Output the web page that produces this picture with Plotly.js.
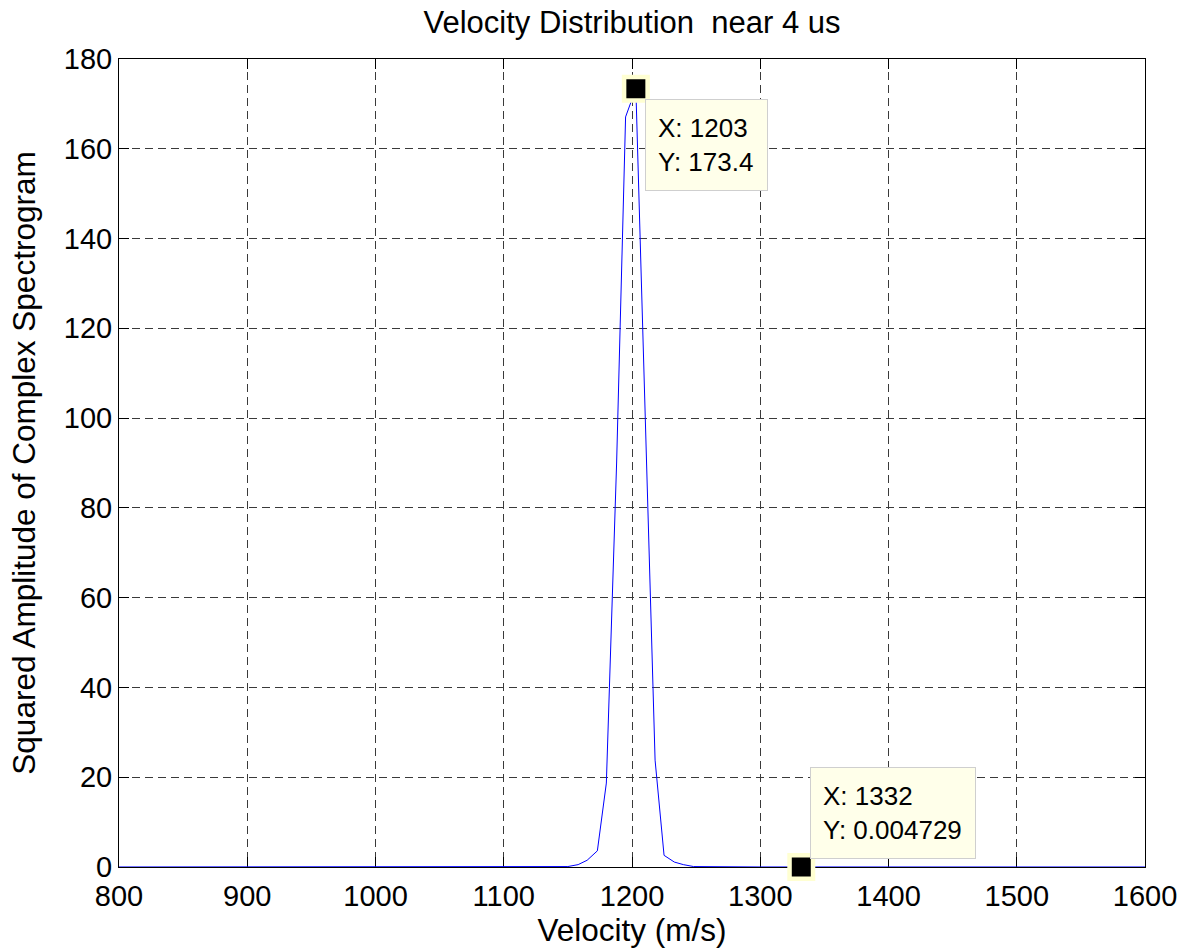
<!DOCTYPE html>
<html>
<head>
<meta charset="utf-8">
<script src="https://cdn.plot.ly/plotly-3.0.1.min.js"></script>
<style>html,body{margin:0;padding:0;background:#fff;}#chart{width:1181px;height:949px;}</style>
</head>
<body>
<div id="chart"></div>
<script>
// Velocity samples (m/s) and squared amplitude
var velocity = [800, 900, 1000, 1100, 1150, 1158, 1165, 1173, 1180, 1188, 1195, 1203, 1210, 1218, 1225, 1233, 1240, 1248, 1300, 1332, 1400, 1500, 1600];
var amplitude = [0.005, 0.005, 0.005, 0.01, 0.1, 0.53, 1.5, 3.6, 18.7, 90, 167.1, 173.4, 104, 23.8, 2.6, 1.1, 0.53, 0.1, 0.01, 0.004729, 0.005, 0.005, 0.005];

// Data tips
var tipX = [1203, 1332];
var tipY = [173.4, 0.004729];
var tipLabelY = ['173.4', '0.004729'];

var xTicks = [800, 900, 1000, 1100, 1200, 1300, 1400, 1500, 1600];
var yTicks = [0, 20, 40, 60, 80, 100, 120, 140, 160, 180];

var FONT = 'Liberation Sans, Arial, Helvetica, sans-serif';

var traces = [
  {
    x: velocity, y: amplitude, type: 'scatter', mode: 'lines',
    line: {color: '#0000FF', width: 1}, hoverinfo: 'x+y'
  },
  {
    x: tipX, y: tipY, type: 'scatter', mode: 'markers', cliponaxis: false,
    marker: {symbol: 'square', size: 23.5, color: '#000000', line: {color: '#FFFFD2', width: 4.5}},
    hoverinfo: 'skip'
  }
];

var annotations = [
  {
    x: tipX[0], y: tipY[0], xref: 'x', yref: 'y', showarrow: false,
    xanchor: 'left', yanchor: 'top', xshift: 9, yshift: -10,
    align: 'left', valign: 'middle', width: 97, height: 66,
    text: 'X: ' + tipX[0] + '<br>Y: ' + tipLabelY[0],
    font: {family: FONT, size: 26, color: '#000'},
    bgcolor: '#FFFFEA', bordercolor: '#CFCFCF', borderwidth: 1, borderpad: 12
  },
  {
    x: tipX[1], y: tipY[1], xref: 'x', yref: 'y', showarrow: false,
    xanchor: 'left', yanchor: 'bottom', xshift: 9, yshift: 8,
    align: 'left', valign: 'middle', width: 140, height: 66,
    text: 'X: ' + tipX[1] + '<br>Y: ' + tipLabelY[1],
    font: {family: FONT, size: 26, color: '#000'},
    bgcolor: '#FFFFEA', bordercolor: '#CFCFCF', borderwidth: 1, borderpad: 12
  }
];

var layout = {
  width: 1181, height: 949,
  margin: {l: 119, r: 36, t: 59, b: 82},
  paper_bgcolor: '#ffffff', plot_bgcolor: '#ffffff',
  font: {family: FONT, color: '#000'},
  showlegend: false,
  title: {
    text: 'Velocity Distribution \u00a0near 4 us',
    font: {family: FONT, size: 31, color: '#000'},
    x: 0.5, xref: 'paper', xanchor: 'center',
    y: 1 - 22 / 949, yref: 'container', yanchor: 'middle'
  },
  xaxis: {
    range: [800, 1600], tickmode: 'array', tickvals: xTicks, ticktext: xTicks.map(String),
    ticks: 'inside', ticklen: 10, tickwidth: 1, tickcolor: '#000',
    showline: true, linecolor: '#000', linewidth: 1, mirror: 'ticks',
    showgrid: true, gridcolor: '#3a3a3a', gridwidth: 1, griddash: '8px,5px',
    zeroline: false, layer: 'below traces', ticklabelstandoff: 3,
    tickfont: {family: FONT, size: 29, color: '#000'},
    title: {text: 'Velocity (m/s)', font: {family: FONT, size: 31.5, color: '#000'}, standoff: 5}
  },
  yaxis: {
    range: [0, 180], tickmode: 'array', tickvals: yTicks, ticktext: yTicks.map(String),
    ticks: 'inside', ticklen: 10, tickwidth: 1, tickcolor: '#000',
    showline: true, linecolor: '#000', linewidth: 1, mirror: 'ticks',
    showgrid: true, gridcolor: '#3a3a3a', gridwidth: 1, griddash: '8px,5px',
    zeroline: false, layer: 'below traces',
    tickfont: {family: FONT, size: 29, color: '#000'},
    title: {text: 'Squared Amplitude of Complex Spectrogram', font: {family: FONT, size: 31.5, color: '#000'}, standoff: 18}
  },
  annotations: annotations
};

Plotly.newPlot('chart', traces, layout, {displayModeBar: false, staticPlot: true});
</script>
</body>
</html>
